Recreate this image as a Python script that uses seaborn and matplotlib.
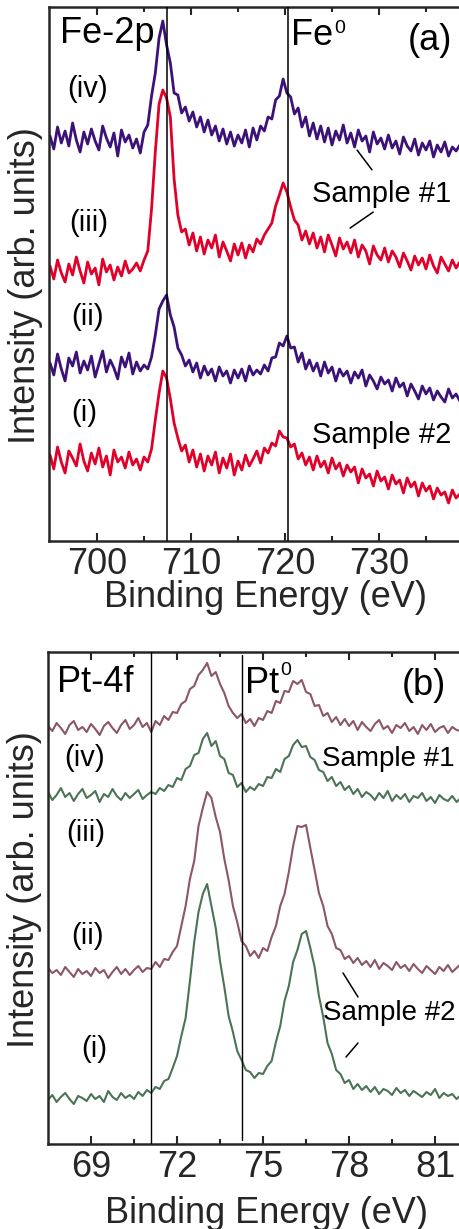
import numpy as np
import pandas as pd
import matplotlib
matplotlib.use("Agg")
import matplotlib.pyplot as plt
import seaborn as sns

# ---------------- Fe-2p spectra (panel a) ----------------
FE_START, FE_STEP = 695.0, 0.4          # binding energy scan (eV)
fe_iv = [405, 392, 414, 398, 410, 395, 418, 401, 389, 409,
         397, 412, 400, 391, 415, 403, 394, 408, 385, 411,
         399, 406, 393, 402, 388,
         409, 416, 445, 468, 503,
         520, 496, 478, 448, 446, 428, 434,
         420, 429, 414, 424, 409, 421, 406,
         415, 400, 412, 397, 409, 395,
         406, 398, 411, 394, 413, 401, 415,
         410, 424, 422, 441, 445, 462, 448,
         444, 427, 433, 414, 424, 405,
         418, 402, 415, 399, 413, 396, 410, 401, 416, 398,
         408, 394, 411, 400, 405, 389, 409, 397, 403, 392,
         406, 393, 400, 387, 404, 395, 390, 402, 386, 398,
         391, 400, 384, 396, 389, 399, 385, 394, 390, 396]
fe_iii = [275, 262, 281, 268, 259, 277, 266, 284, 270, 258,
          279, 267, 273, 256, 282, 269, 276, 261, 274, 265,
          280, 268, 272, 278, 270,
          281, 290, 332, 389, 437,
          451, 443, 424, 362, 326, 309, 312,
          296, 308, 290, 304, 287, 301, 293,
          306, 284, 299, 290, 280, 297,
          286, 298, 283, 296, 289, 302, 297,
          306, 312, 318, 335, 346, 358, 349,
          334, 321, 316, 301, 310, 297,
          308, 293, 304, 289, 306, 296, 285, 303, 292, 299,
          288, 301, 284, 296, 290, 277, 295, 286, 281, 293,
          279, 290, 284, 274, 288, 280, 271, 285, 276, 283,
          272, 286, 275, 268, 284, 277, 270, 281, 273, 279]
fe_ii = [178, 166, 187, 172, 160, 183, 175, 189, 168, 180,
         171, 185, 164, 177, 190, 169, 181, 173, 162, 184,
         174, 188, 167, 179, 170,
         176, 172, 184, 206, 232,
         240, 246, 226, 214, 193, 186, 175,
         181, 169, 178, 163, 175, 166, 172,
         160, 174, 165, 170, 158, 171,
         163, 172, 160, 175, 166, 171, 167,
         176, 170, 183, 184, 198, 195, 205,
         193, 194, 179, 188, 172, 181,
         170, 178, 165, 179, 168, 174, 160, 172, 165, 170,
         158, 169, 163, 171, 155, 166, 160, 152, 164, 157,
         161, 150, 163, 154, 158, 145, 157, 150, 142, 155,
         147, 153, 141, 150, 144, 139, 152, 143, 147, 140]
fe_i = [86, 72, 94, 79, 68, 90, 83, 75, 97, 80,
        70, 88, 77, 93, 74, 85, 66, 91, 79, 84,
        73, 89, 76, 82, 71,
        84, 79, 92, 121, 148,
        170, 163, 142, 118, 103, 90, 96,
        79, 91, 74, 87, 70, 85, 76,
        89, 68, 83, 73, 87, 66,
        80, 71, 86, 75, 82, 90, 78,
        93, 88, 98, 95, 110, 104, 103,
        94, 97, 82, 88, 76, 84,
        71, 85, 74, 80, 68, 83, 72, 78, 65, 76,
        69, 74, 58, 72, 63, 67, 55, 70, 60, 64,
        52, 66, 57, 61, 48, 63, 54, 59, 45, 58,
        50, 55, 42, 53, 46, 49, 38, 51, 43, 47]

# ---------------- Pt-4f spectra (panel b) ----------------
PT_START, PT_STEP = 67.5, 0.15
pt_iv = [418, 413, 421, 416, 410, 419, 423, 414, 417, 412,
         420, 415, 409, 418, 422, 416, 411, 419, 424, 415,
         419, 426, 417, 421, 412,
         423, 419, 428, 424, 432,
         431, 440, 443, 455, 458, 469, 474,
         481, 468, 472, 460, 451, 438, 431,
         426, 430, 421, 425, 418, 426,
         424, 433, 431, 443, 441, 453, 452,
         463, 460, 464, 452, 450, 438, 439,
         428, 431, 422, 427, 419, 425, 418, 423,
         414, 422, 417, 413, 420, 424, 415, 418, 411, 419,
         416, 421, 413, 417, 410, 419, 414, 420, 412, 416,
         418, 411, 417, 414, 413]
pt_iii = [352, 344, 349, 356, 347, 351, 343, 350, 355, 346,
          349, 353, 342, 350, 347, 355, 348, 344, 351, 346,
          350, 354, 345, 349, 352,
          350, 356, 353, 359, 357,
          366, 364, 375, 378, 389, 391, 405,
          411, 398, 403, 388, 385, 371, 369,
          357, 361, 352, 357, 354, 360,
          358, 367, 366, 375, 372, 385, 388,
          399, 404, 397, 398, 387, 384, 374,
          372, 363, 367, 358, 362, 354, 358, 350,
          355, 347, 352, 349, 344, 351, 346, 353, 343, 349,
          345, 350, 342, 348, 346, 351, 343, 347, 341, 349,
          345, 343, 348, 342, 346]
pt_ii = [176, 171, 174, 169, 177, 172, 167, 175, 170, 173,
         168, 176, 171, 174, 166, 172, 177, 170, 175, 169,
         174, 178, 172, 176, 175,
         182, 177, 185, 184, 192,
         198, 218, 238, 265, 283, 318, 336,
         352, 346, 327, 312, 285, 264, 238,
         222, 203, 198, 188, 193, 186,
         196, 193, 207, 218, 238, 250, 272,
         298, 318, 317, 319, 296, 274, 251,
         238, 218, 210, 196, 194, 185, 188, 181,
         186, 179, 183, 177, 184, 175, 181, 178, 174, 182,
         176, 179, 173, 180, 175, 171, 178, 174, 170, 177,
         173, 179, 172, 176, 180]
pt_i = [44, 49, 42, 47, 51, 45, 40, 48, 46, 43,
        50, 45, 48, 42, 53, 47, 44, 51, 46, 49,
        45, 52, 48, 54, 51,
        57, 55, 63, 65, 76,
        88, 108, 126, 163, 202, 232, 250,
        260, 238, 216, 183, 157, 128, 112,
        93, 84, 74, 72, 66, 71,
        70, 78, 83, 102, 118, 143, 158,
        182, 194, 210, 213, 196, 177, 148,
        127, 101, 90, 74, 70, 61, 64, 55,
        60, 54, 58, 52, 57, 50, 55, 53, 49, 56,
        51, 54, 48, 53, 50, 47, 52, 49, 55, 46,
        51, 48, 50, 45, 49]

fe_ref_lines = [707.4, 720.3]
pt_ref_lines = [71.1, 74.27]
fe_ticks = [700, 710, 720, 730]
pt_ticks = [69, 72, 75, 78, 81]

PURPLE, RED = "#3c1279", "#e1002a"
MAUVE, GREEN = "#8c5569", "#4b7356"

sns.set_style("ticks")
plt.rcParams["font.family"] = ["Liberation Sans", "DejaVu Sans"]

fig = plt.figure(figsize=(4.59, 12.29), dpi=100)
ax_a = fig.add_axes([49 / 459, 1 - 541 / 1229, 413 / 459, 534 / 1229])
ax_b = fig.add_axes([48 / 459, 1 - 1144 / 1229, 414 / 459, 492 / 1229])


def to_frame(start, step, values):
    energy = np.round(start + step * np.arange(len(values)), 3)
    return pd.DataFrame({"energy": energy, "intensity": values})


fe_curves = [(fe_iv, PURPLE), (fe_iii, RED), (fe_ii, PURPLE), (fe_i, RED)]
for vals, col in fe_curves:
    df = to_frame(FE_START, FE_STEP, vals)
    sns.lineplot(data=df, x="energy", y="intensity", ax=ax_a, color=col,
                 linewidth=2.0, estimator=None, sort=False)

pt_curves = [(pt_iv, MAUVE), (pt_iii, GREEN), (pt_ii, MAUVE), (pt_i, GREEN)]
for vals, col in pt_curves:
    df = to_frame(PT_START, PT_STEP, vals)
    sns.lineplot(data=df, x="energy", y="intensity", ax=ax_b, color=col,
                 linewidth=1.5, estimator=None, sort=False)

for xv in fe_ref_lines:
    ax_a.axvline(xv, color="black", linewidth=1.1, zorder=3)
ax_b.axvline(pt_ref_lines[0], color="black", linewidth=1.0, zorder=3)
ax_b.axvline(pt_ref_lines[1], ymin=0.008, ymax=0.994, color="black",
             linewidth=1.0, zorder=3)

ax_a.set_xlim(694.89, 738.83)
ax_a.set_ylim(0, 534)
ax_b.set_xlim(67.50, 81.94)
ax_b.set_ylim(0, 492)

ax_a.set_xticks(fe_ticks)
ax_a.set_xticks([705, 715, 725, 735], minor=True)
ax_b.set_xticks(pt_ticks)
ax_b.set_xticks([70.5, 73.5, 76.5, 79.5], minor=True)

for ax in (ax_a, ax_b):
    ax.set_yticks([])
    for side in ("left", "bottom", "top"):
        ax.spines[side].set_visible(True)
        ax.spines[side].set_linewidth(1.8)
    ax.spines["right"].set_visible(False)
    ax.tick_params(which="both", direction="in", top=True, bottom=True,
                   left=False, right=False, width=1.5, labelsize=26, pad=4)
    ax.tick_params(which="major", length=5.5)
    ax.tick_params(which="minor", length=3.5)
    ax.set_xlabel("Binding Energy (eV)", fontsize=26)
    ax.set_ylabel("Intensity (arb. units)", fontsize=26)

ax_a.xaxis.set_label_coords(0.525, -0.073)
ax_a.yaxis.set_label_coords(-0.0145, 0.479)
ax_b.xaxis.set_label_coords(0.527, -0.106)
ax_b.yaxis.set_label_coords(-0.0145, 0.518)

big = 26
small = 21


def label(ax, x, y, s, size):
    ax.text(x, y, s, transform=ax.transAxes, fontsize=size,
            ha="left", va="baseline", color="black")


# panel (a) annotations
label(ax_a, 0.0266, 0.9326, "Fe-2p", big)
label(ax_a, 0.586, 0.929, "Fe", big)
label(ax_a, 0.690, 0.951, "0", 14)
label(ax_a, 0.869, 0.919, "(a)", big)
label(ax_a, 0.0436, 0.831, "(iv)", small)
label(ax_a, 0.0484, 0.5805, "(iii)", small)
label(ax_a, 0.0533, 0.405, "(ii)", small)
label(ax_a, 0.0533, 0.2247, "(i)", small)
label(ax_a, 0.637, 0.635, "Sample #1", small)
label(ax_a, 0.637, 0.1835, "Sample #2", small)
ax_a.plot([0.746, 0.782], [0.732, 0.695], transform=ax_a.transAxes,
          color="black", linewidth=1.1)
ax_a.plot([0.729, 0.785], [0.586, 0.616], transform=ax_a.transAxes,
          color="black", linewidth=1.1)

# panel (b) annotations
label(ax_b, 0.0217, 0.9187, "Pt-4f", big)
label(ax_b, 0.476, 0.9167, "Pt", big)
label(ax_b, 0.560, 0.953, "0", 14)
label(ax_b, 0.855, 0.9126, "(b)", big)
label(ax_b, 0.0386, 0.768, "(iv)", small)
label(ax_b, 0.0435, 0.616, "(iii)", small)
label(ax_b, 0.0556, 0.4065, "(ii)", small)
label(ax_b, 0.0797, 0.1768, "(i)", small)
label(ax_b, 0.662, 0.768, "Sample #1", 20)
label(ax_b, 0.664, 0.252, "Sample #2", 20)
ax_b.plot([0.7126, 0.7488], [0.3476, 0.2988], transform=ax_b.transAxes,
          color="black", linewidth=1.1)
ax_b.plot([0.7488, 0.7198], [0.2053, 0.1768], transform=ax_b.transAxes,
          color="black", linewidth=1.1)

fig.savefig("out.png", dpi=100)
